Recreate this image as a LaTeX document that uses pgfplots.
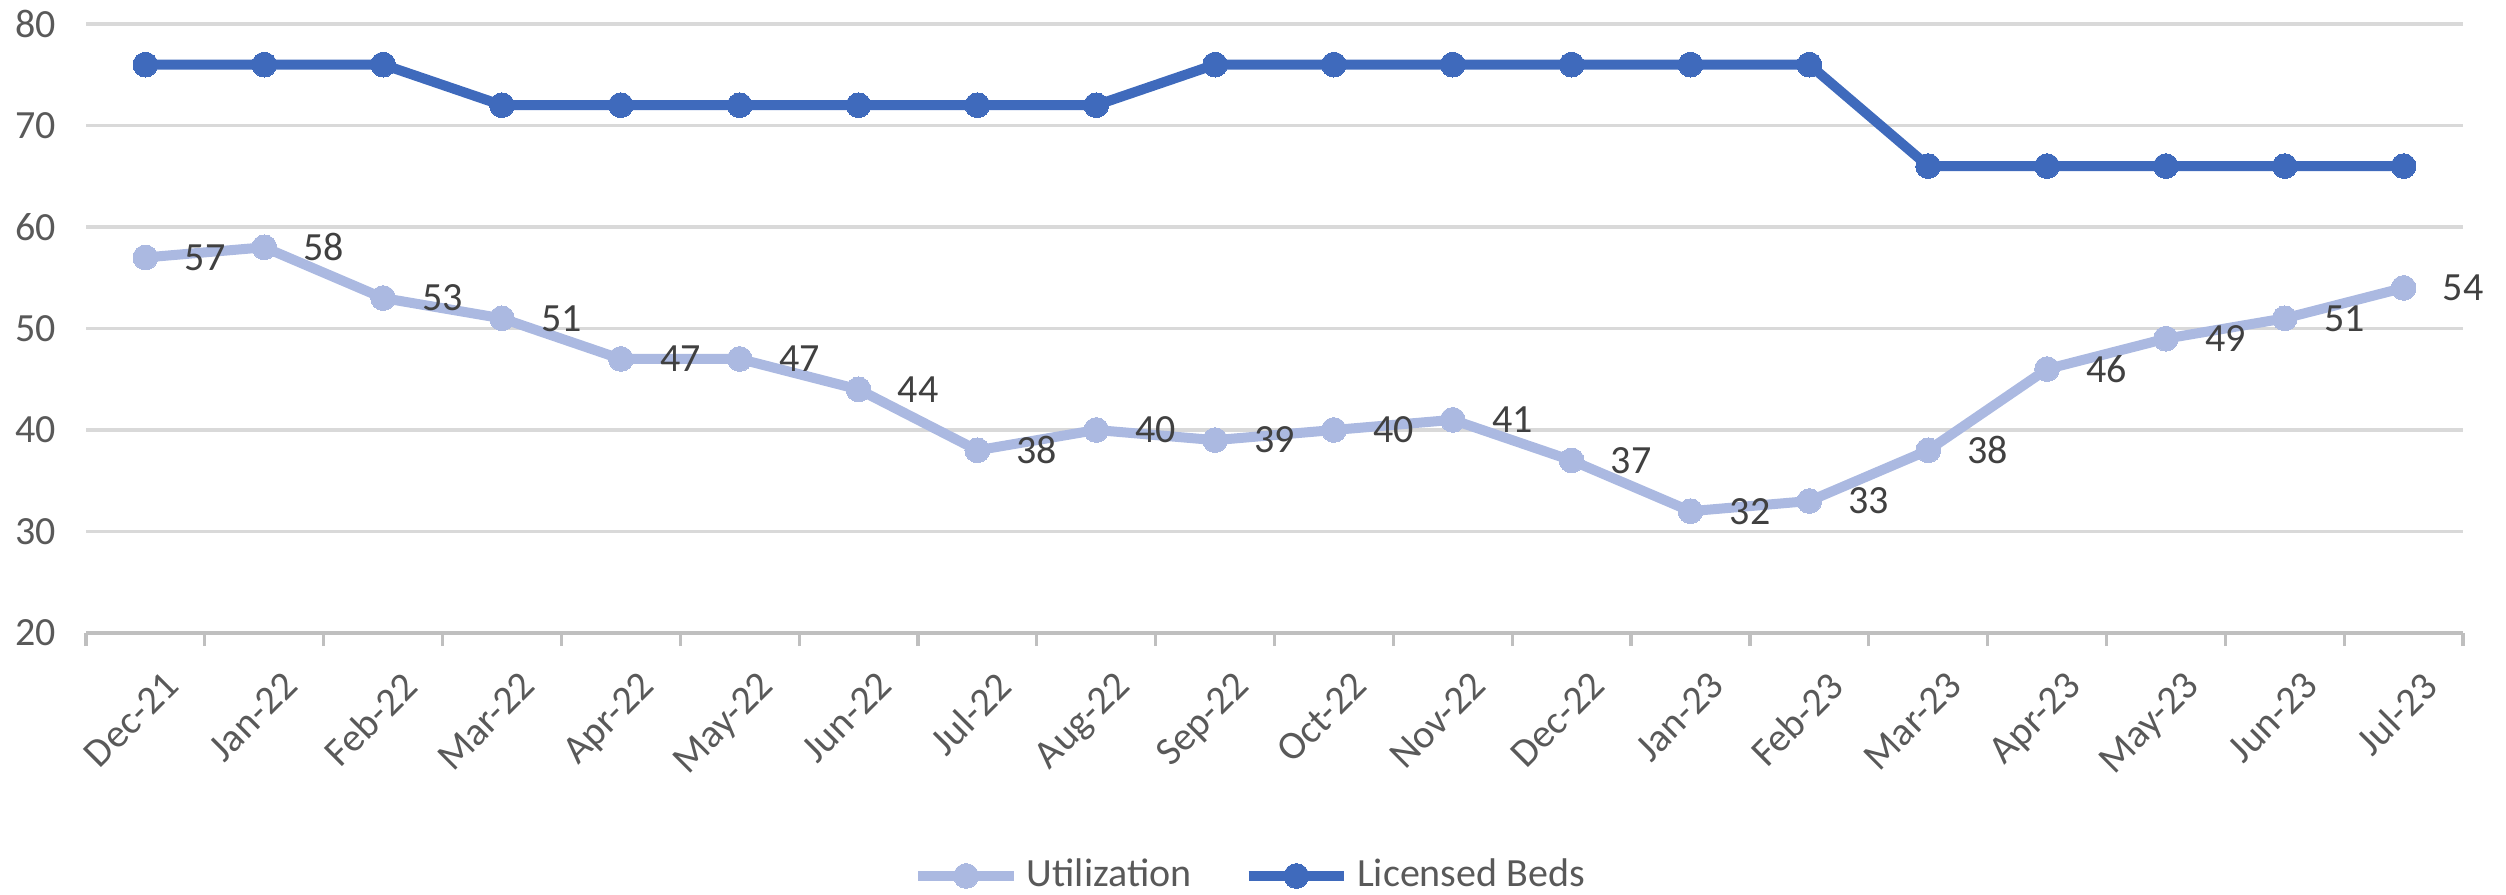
\documentclass[border=0pt]{standalone}
\usepackage{pgfplots}
\pgfplotsset{compat=1.18}
\usepackage{fontspec}
\setmainfont{Carlito}
\definecolor{bedblue}{RGB}{63,106,188}
\definecolor{utilblue}{RGB}{171,185,225}
\definecolor{lblgray}{RGB}{64,64,64}
\definecolor{tickgray}{RGB}{89,89,89}
\definecolor{gridgray}{RGB}{217,217,217}
\definecolor{axisgray}{RGB}{191,191,191}
\begin{document}
\begin{tikzpicture}
\path[use as bounding box] (-21.5pt,-65.5pt) rectangle (605pt,158.25pt);
\begin{axis}[
  scale only axis,
  width=594.25pt, height=152.25pt,
  xmin=-0.5, xmax=19.5, ymin=20, ymax=80,
  clip=false,
  axis lines*=left,
  y axis line style={draw=none},
  x axis line style={draw=axisgray, line width=0.8pt},
  ytick={20,30,...,80},
  ymajorgrids,
  major grid style={draw=gridgray, line width=0.9pt},
  xtick={0,...,19},
  xticklabels={Dec-21,Jan-22,Feb-22,Mar-22,Apr-22,May-22,Jun-22,Jul-22,Aug-22,Sep-22,Oct-22,Nov-22,Dec-22,Jan-23,Feb-23,Mar-23,Apr-23,May-23,Jun-23,Jul-23},
  minor xtick={-0.5,0.5,...,19.5},
  major tick length=0pt,
  minor tick length=3.3pt,
  tick align=outside,
  minor tick style={draw=axisgray, line width=0.8pt},
  major tick style={draw=none},
  /pgf/number format/assume math mode=true,
  tick label style={font=\fontsize{10}{12}\selectfont, text=tickgray},
  yticklabel style={xshift=-4pt},
  xticklabel style={rotate=45, anchor=north east, yshift=-6pt},
  legend columns=2,
  legend style={at={(axis description cs:0.491,-0.399)}, anchor=center, draw=none, fill=none,
    font=\fontsize{10}{12}\selectfont, text=tickgray,
    /tikz/every even column/.append style={column sep=11pt}},
  legend cell align=left,
  legend image code/.code={\draw[mark repeat=2,mark phase=2] plot coordinates {(0cm,0cm) (0.42cm,0cm) (0.84cm,0cm)};},
]
\addplot[color=utilblue, line width=2.5pt, mark=*, mark size=3.1pt, mark options={solid, fill=utilblue, draw=utilblue, line width=0pt},
  nodes near coords,
  every node near coord/.append style={anchor=west, xshift=6.5pt, text=lblgray, font=\fontsize{10}{12}\selectfont},
  point meta=explicit symbolic]
coordinates {
(0,57) [57] (1,58) [58] (2,53) [53] (3,51) [51] (4,47) [47] (5,47) [47] (6,44) [44] (7,38) [38] (8,40) [40] (9,39) [39]
(10,40) [40] (11,41) [41] (12,37) [37] (13,32) [32] (14,33) [33] (15,38) [38] (16,46) [46] (17,49) [49] (18,51) [51] (19,54) [54]
};
\addlegendentry{Utilization}
\addplot[color=bedblue, line width=2.5pt, mark=*, mark size=3.1pt, mark options={solid, fill=bedblue, draw=bedblue, line width=0pt}]
coordinates {
(0,76) (1,76) (2,76) (3,72) (4,72) (5,72) (6,72) (7,72) (8,72) (9,76)
(10,76) (11,76) (12,76) (13,76) (14,76) (15,66) (16,66) (17,66) (18,66) (19,66)
};
\addlegendentry{Licensed Beds}
\end{axis}
\end{tikzpicture}
\end{document}
